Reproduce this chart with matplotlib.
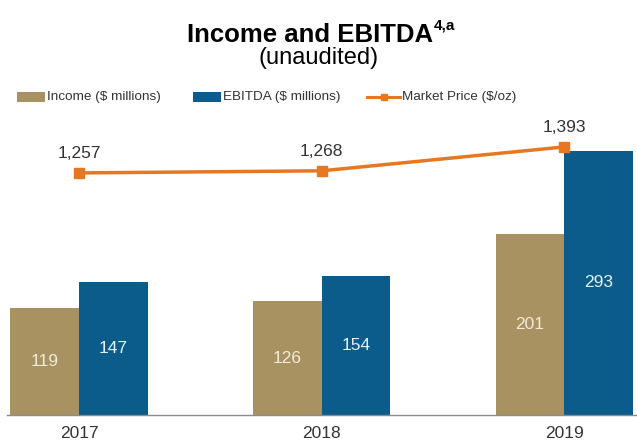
import numpy as np
import matplotlib.pyplot as plt
from matplotlib.lines import Line2D
from matplotlib.patches import Rectangle

plt.rcParams['font.family'] = ['Liberation Sans', 'DejaVu Sans']

years = ["2017", "2018", "2019"]
income = [119, 126, 201]
ebitda = [147, 154, 293]
market_price = [1257, 1268, 1393]

COLOR_INCOME = "#A89262"
COLOR_EBITDA = "#0B5B8B"
COLOR_PRICE = "#E87722"
COLOR_TEXT = "#333333"

W, H = 637, 442
fig = plt.figure(figsize=(W / 100, H / 100), dpi=100)
ax = fig.add_axes([7 / W, 27 / H, 630 / W, 295 / H])

x = np.arange(len(years))
w = 0.283

bars_inc = ax.bar(x - w / 2, income, w, color=COLOR_INCOME, zorder=2)
bars_ebt = ax.bar(x + w / 2, ebitda, w, color=COLOR_EBITDA, zorder=2)

# valores dentro de las barras, centrados
for b, v in zip(bars_inc, income):
    ax.text(b.get_x() + b.get_width() / 2, v / 2, f"{v}", ha="center", va="center",
            color="#F3EBD8", fontsize=12.5)
for b, v in zip(bars_ebt, ebitda):
    ax.text(b.get_x() + b.get_width() / 2, v / 2, f"{v}", ha="center", va="center",
            color="#E6F1FA", fontsize=12.5)

ax.set_xlim(-0.297, 2.30)
ax.set_ylim(0, 327)
ax.set_xticks(x)
ax.set_xticklabels(years, fontsize=12.5, color=COLOR_TEXT)
ax.tick_params(axis="x", length=0, pad=8)
ax.set_yticks([])
for s in ["top", "left", "right"]:
    ax.spines[s].set_visible(False)
ax.spines["bottom"].set_color("#8C8C8C")
ax.spines["bottom"].set_linewidth(1.0)

# precio del oro en eje secundario
ax2 = ax.twinx()
ax2.plot(x, market_price, color=COLOR_PRICE, linewidth=2.5, marker="s",
         markersize=7, zorder=3)
for xi, p in zip(x, market_price):
    ax2.annotate(f"{p:,}", xy=(xi, p), xytext=(0, 11), textcoords="offset points",
                 ha="center", va="baseline", color=COLOR_TEXT, fontsize=12.5)
ax2.set_ylim(-10, 1534)
ax2.set_yticks([])
for s in ax2.spines.values():
    s.set_visible(False)

# titulo con superindice aparte
fig.text(433 / W, 1 - 42 / H, "Income and EBITDA", ha="right", va="baseline",
         fontsize=18.5, fontweight="bold", color="black")
fig.text(434 / W, 1 - 30 / H, "4,a", ha="left", va="baseline",
         fontsize=11, fontweight="bold", color="black")
fig.text(0.5, 1 - 58 / H, "(unaudited)", ha="center", va="center", fontsize=17, color="black")

# leyenda dibujada a mano (pixeles de la figura)
ley_y = 1 - 97 / H
fig.patches.append(Rectangle((17 / W, ley_y - 4.5 / H), 28 / W, 9 / H,
                             facecolor=COLOR_INCOME, transform=fig.transFigure, figure=fig))
fig.text(47 / W, ley_y, "Income ($ millions)", ha="left", va="center", fontsize=9.7, color=COLOR_TEXT)
fig.patches.append(Rectangle((193 / W, ley_y - 4.5 / H), 28 / W, 9 / H,
                             facecolor=COLOR_EBITDA, transform=fig.transFigure, figure=fig))
fig.text(223 / W, ley_y, "EBITDA ($ millions)", ha="left", va="center", fontsize=9.7, color=COLOR_TEXT)
fig.lines.append(Line2D([367 / W, 400 / W], [ley_y, ley_y], color=COLOR_PRICE, linewidth=2.2,
                        transform=fig.transFigure, figure=fig))
fig.lines.append(Line2D([383.5 / W], [ley_y], color=COLOR_PRICE, marker="s", markersize=5,
                        transform=fig.transFigure, figure=fig))
fig.text(402 / W, ley_y, "Market Price ($/oz)", ha="left", va="center", fontsize=9.7, color=COLOR_TEXT)

fig.savefig("out.png", dpi=100)
